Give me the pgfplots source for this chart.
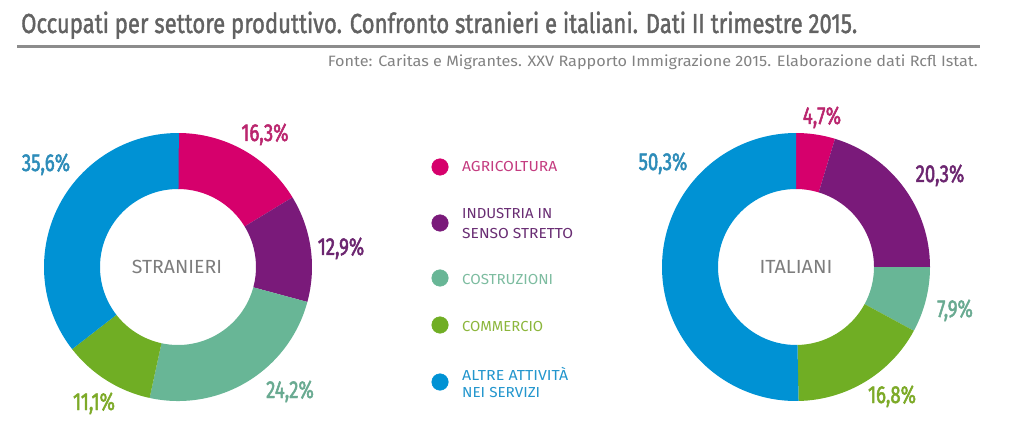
\documentclass[border=0pt]{standalone}
\usepackage{pgfplots}
\pgfplotsset{compat=1.18}
\usepackage{pgfplotstable}
\usepackage{graphicx}
\usepackage{fontspec}
\setmainfont{Fira Sans}
\newfontfamily\med{Fira Sans}[FakeBold=1.6]
\newfontfamily\cond{Fira Sans}[FakeStretch=0.76,FakeBold=2]

\definecolor{cagri}{RGB}{214,0,108}
\definecolor{cind}{RGB}{122,26,122}
\definecolor{ccos}{RGB}{104,182,150}
\definecolor{ccom}{RGB}{112,174,36}
\definecolor{calt}{RGB}{0,146,212}
\definecolor{lagri}{RGB}{186,38,110}
\definecolor{lind}{RGB}{108,38,112}
\definecolor{lcos}{RGB}{105,170,145}
\definecolor{lcom}{RGB}{125,170,40}
\definecolor{lalt}{RGB}{45,140,185}
\definecolor{tagri}{RGB}{196,60,128}
\definecolor{tind}{RGB}{105,45,115}
\definecolor{tcos}{RGB}{125,188,160}
\definecolor{tcom}{RGB}{140,182,60}
\definecolor{talt}{RGB}{35,150,205}
\definecolor{ctitle}{RGB}{98,98,98}
\definecolor{csrc}{RGB}{130,130,130}
\definecolor{crule}{RGB}{140,140,140}
\definecolor{ccenter}{RGB}{125,125,125}

% quote per settore (%)
\pgfplotstableread{
val c
16.3 agri
12.9 ind
24.2 cos
11.1 com
35.6 alt
}\stranieri
\pgfplotstableread{
val c
4.7 agri
20.3 ind
7.9 cos
16.8 com
50.3 alt
}\italiani
\pgfplotstableread{
y c
278 agri
222 ind
167 cos
120 com
63 alt
}\legenda

% one ring sector per data point, clockwise from 12 o'clock
\gdef\acc{0}
\pgfdeclareplotmark{slice}{%
  \pgfmathsetmacro\aone{90-3.6*\acc}%
  \pgfmathsetmacro\newacc{\acc+\val}%
  \global\let\acc\newacc
  \pgfmathsetmacro\atwo{90-3.6*\acc}%
  \pgfpathmoveto{\pgfpointpolar{\aone}{134pt}}%
  \pgfpatharc{\aone}{\atwo}{134pt}%
  \pgfpathlineto{\pgfpointpolar{\atwo}{78pt}}%
  \pgfpatharc{\atwo}{\aone}{78pt}%
  \pgfpathclose
  \pgfusepathqfill
}

\newcommand\fitw[2]{\resizebox{#1pt}{\height}{#2}}
\newcommand\pct[4]{\node[anchor=base,inner sep=0,text=#3] at (axis cs:#1,#2)
  {\cond\fontsize{24.5}{26}\selectfont #4};}
\newcommand\leg[5]{\node[anchor=base west,inner sep=0,text=#3] at (axis cs:#1,#2)
  {\fitw{#4}{\fontsize{14.5}{16}\selectfont #5}};}

\begin{document}
\begin{tikzpicture}
\begin{axis}[width=1009pt, height=445pt, scale only axis,
  xmin=0, xmax=1009, ymin=0, ymax=445, hide axis, clip=false,
  scatter/classes={agri={fill=cagri,draw=cagri}, ind={fill=cind,draw=cind},
    cos={fill=ccos,draw=ccos}, com={fill=ccom,draw=ccom}, alt={fill=calt,draw=calt}}]

\addplot[scatter, only marks, mark=slice, point meta=explicit symbolic,
  visualization depends on={\thisrow{val}\as\val},
  execute at begin plot visualization={\gdef\acc{0}}]
  table[x expr=178, y expr=178, meta=c]{\stranieri};
\addplot[scatter, only marks, mark=slice, point meta=explicit symbolic,
  visualization depends on={\thisrow{val}\as\val},
  execute at begin plot visualization={\gdef\acc{0}}]
  table[x expr=796, y expr=178, meta=c]{\italiani};
\addplot[scatter, only marks, mark=*, mark size=8.3pt, point meta=explicit symbolic]
  table[x expr=440, y=y, meta=c]{\legenda};

\node[anchor=base west,inner sep=0,text=ctitle] at (axis cs:21,412)
  {\fitw{836}{\med\fontsize{27.5}{30}\selectfont Occupati per settore produttivo. Confronto stranieri e italiani. Dati II trimestre 2015.}};
\draw[line width=3pt,crule] (axis cs:17,398.5) -- (axis cs:980,398.5);
\node[anchor=base east,inner sep=0,text=csrc] at (axis cs:978,378)
  {\fitw{650}{\fontsize{15}{18}\selectfont Fonte: Caritas e Migrantes. XXV Rapporto Immigrazione 2015. Elaborazione dati Rcfl Istat.}};

\node[anchor=base,inner sep=0,text=ccenter] at (axis cs:177,172)
  {\fitw{90}{\fontsize{19}{20}\selectfont STRANIERI}};
\node[anchor=base,inner sep=0,text=ccenter] at (axis cs:796,172)
  {\fitw{73}{\fontsize{19}{20}\selectfont ITALIANI}};

\pct{265}{304}{lagri}{16,3\%}
\pct{341}{190}{lind}{12,9\%}
\pct{290}{47}{lcos}{24,2\%}
\pct{94}{35}{lcom}{11,1\%}
\pct{46}{274}{lalt}{35,6\%}
\pct{822}{321}{lagri}{4,7\%}
\pct{940}{263}{lind}{20,3\%}
\pct{955}{128}{lcos}{7,9\%}
\pct{892}{42}{lcom}{16,8\%}
\pct{663}{275}{lalt}{50,3\%}

\leg{462}{273}{tagri}{95}{AGRICOLTURA}
\leg{462}{226}{tind}{90}{INDUSTRIA IN}
\leg{462}{207}{tind}{111}{SENSO STRETTO}
\leg{462}{161}{tcos}{91}{COSTRUZIONI}
\leg{462}{114}{tcom}{81}{COMMERCIO}
\leg{462}{65}{talt}{106}{ALTRE ATTIVITÀ}
\leg{462}{48}{talt}{78}{NEI SERVIZI}
\end{axis}
\pgfresetboundingbox
\path (current axis.south west) rectangle (current axis.north east);
\end{tikzpicture}
\end{document}
